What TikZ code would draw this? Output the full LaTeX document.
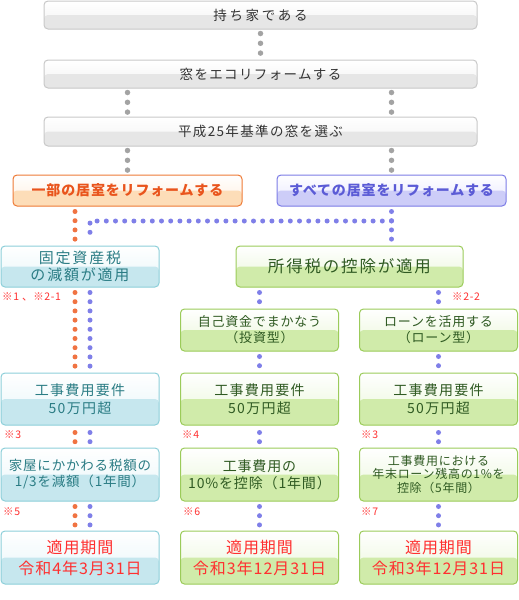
\documentclass[tikz,border=0pt]{standalone}
\usepackage{fontspec}
\setmainfont[LetterSpace=6]{Noto Sans CJK JP}

\definecolor{greyline}{HTML}{C8C8C8}
\definecolor{greyhi}{HTML}{F2F2F2}
\definecolor{greylo}{HTML}{E6E6E6}
\definecolor{greytext}{HTML}{333333}
\definecolor{orangeline}{HTML}{EE7A36}
\definecolor{orangehi}{HTML}{FFEEDD}
\definecolor{orangelo}{HTML}{FDDDB8}
\definecolor{orangetext}{HTML}{E9541C}
\definecolor{blueline}{HTML}{7C7CE6}
\definecolor{bluehi}{HTML}{E6E6FF}
\definecolor{bluelo}{HTML}{CDCDF8}
\definecolor{bluetext}{HTML}{5B5BD6}
\definecolor{cyanline}{HTML}{8DCFD9}
\definecolor{cyanhi}{HTML}{E6F5F8}
\definecolor{cyanlo}{HTML}{C6E7EE}
\definecolor{cyantext}{HTML}{2A7C84}
\definecolor{greenline}{HTML}{9BCB5A}
\definecolor{greenhi}{HTML}{E8F6D6}
\definecolor{greenlo}{HTML}{D0EBAA}
\definecolor{greentext}{HTML}{2F5A22}
\definecolor{notered}{HTML}{FF3030}
\definecolor{dotgrey}{HTML}{A3A3A3}
\definecolor{dotorange}{HTML}{F07342}
\definecolor{dotblue}{HTML}{7F7FE8}

\begin{document}
\begin{tikzpicture}[x=1pt,y=-1pt,
    box/.style={rounded corners=4pt, line width=1pt, align=center, inner sep=0pt, outer sep=0pt},
    gloss/.style 2 args={top color=white, bottom color=#1,
        path picture={\fill[#2] (path picture bounding box.west) rectangle (path picture bounding box.south east);}},
    greybox/.style={box, draw=greyline, gloss={greyhi}{greylo}, text=greytext,
        minimum width=433pt, minimum height=28pt, font=\fontsize{13.5}{16}\selectfont\addfontfeatures{LetterSpace=10}},
    choicebox/.style={box, gloss={#1hi}{#1lo}, draw=#1line, text=#1text,
        minimum width=229pt, minimum height=31pt, font=\fontsize{14}{16}\selectfont\bfseries},
    cyanbox/.style={box, draw=cyanline, gloss={cyanhi}{cyanlo}, text=cyantext, minimum width=158pt},
    greenbox/.style={box, draw=greenline, gloss={greenhi}{greenlo}, text=greentext, minimum width=158pt},
    reqtext/.style={minimum height=52pt, font=\fontsize{14}{18}\selectfont\addfontfeatures{LetterSpace=9}},
    termtext/.style={minimum height=53pt, text=notered, font=\fontsize{16}{21}\selectfont},
    note/.style={anchor=west, inner sep=0pt, text=notered, font=\fontsize{10.5}{12}\selectfont},
    greydots/.style={draw=dotgrey, line width=5.5pt, line cap=round, dash pattern=on 0pt off 9.8pt,
        shorten <=4.5pt, shorten >=4.5pt},
    orangedots/.style={draw=dotorange, line width=5pt, line cap=round, dash pattern=on 0pt off 9.2pt,
        shorten <=5.5pt, shorten >=5.5pt},
    bluedots/.style={draw=dotblue, line width=5pt, line cap=round, dash pattern=on 0pt off 9.2pt,
        shorten <=5.5pt, shorten >=5.5pt},
    nearpair/.style={shorten <=7.5pt, shorten >=6pt}
]
\useasboundingbox (0,0) rectangle (519,600);

% top steps
\node[greybox, font=\fontsize{13.5}{16}\selectfont\addfontfeatures{LetterSpace=20}] (own) at (260.5,15) {持ち家である};
\node[greybox] (eco) at (260.5,74) {窓をエコリフォームする};
\node[greybox, minimum height=29pt] (std) at (260.5,131.5) {平成25年基準の窓を選ぶ};

\node[choicebox=orange] (part) at (127.5,190.5) {一部の居室をリフォームする};
\node[choicebox=blue] (all) at (391.5,190.5) {すべての居室をリフォームする};

% tax types
\node[cyanbox, minimum height=41pt, font=\fontsize{15}{17}\selectfont\addfontfeatures{LetterSpace=12}] (fixed) at (80,266.5) {固定資産税\\の減額が適用};
\node[greenbox, minimum width=227pt, minimum height=41pt, font=\fontsize{16.5}{18}\selectfont\addfontfeatures{LetterSpace=11}] (income) at (349.5,266.5) {所得税の控除が適用};

\node[greenbox, minimum height=42pt, font=\fontsize{13}{16}\selectfont] (fund2) at (259.5,330) {自己資金でまかなう\\（投資型）};
\node[greenbox, minimum height=42pt, font=\fontsize{13}{16}\selectfont] (fund3) at (438.5,330) {ローンを活用する\\（ローン型）};

% requirements
\node[cyanbox, reqtext] (req1) at (80,399) {工事費用要件\\50万円超};
\node[greenbox, reqtext] (req2) at (259.5,399) {工事費用要件\\50万円超};
\node[greenbox, reqtext] (req3) at (438.5,399) {工事費用要件\\50万円超};

\node[cyanbox, minimum height=53pt, font=\fontsize{13.5}{16}\selectfont] (cut1) at (80,474.5) {家屋にかかわる税額の\\1/3を減額（1年間）};
\node[greenbox, minimum height=53pt, font=\fontsize{14}{17}\selectfont] (cut2) at (259.5,474.5) {工事費用の\\10\%を控除（1年間）};
\node[greenbox, minimum height=53pt, font=\fontsize{12}{13.5}\selectfont] (cut3) at (438.5,474.5) {工事費用における\\年末ローン残高の1\%を\\控除（5年間）};

\node[cyanbox, termtext] (term1) at (80,557.5) {適用期間\\令和4年3月31日};
\node[greenbox, termtext] (term2) at (259.5,557.5) {適用期間\\令和3年12月31日};
\node[greenbox, termtext] (term3) at (438.5,557.5) {適用期間\\令和3年12月31日};

% notes
\node[note] (n1) at (2,297) {※1 、※2-1};
\node[note] (n22) at (452,297) {※2-2};
\node[note] (n3) at (4,434.5) {※3};
\node[note] (n4) at (182,434.5) {※4};
\node[note] (n3b) at (361,434.5) {※3};
\node[note] (n5) at (3,511.5) {※5};
\node[note] (n6) at (183,511.5) {※6};
\node[note] (n7) at (361,511.5) {※7};

% connectors
\coordinate (oc) at (75,0);
\coordinate (bc) at (90,0);
\coordinate (bj) at (391.5,221);

\draw[greydots] (own) -- (eco);
\draw[greydots] (eco.south -| part) -- (std.north -| part);
\draw[greydots] (eco.south -| all) -- (std.north -| all);
\draw[greydots] (std.south -| part) -- (part.north);
\draw[greydots] (std.south -| all) -- (all.north);

\draw[orangedots] (part.south -| oc) -- (fixed.north -| oc);
\draw[bluedots] (all.south) -- (income.north -| all);
\draw[bluedots, shorten <=0pt] (bj) -- (bj -| bc) -- (fixed.north -| bc);

\foreach \a/\b/\s in {fixed/req1/, req1/cut1/nearpair, cut1/term1/}
{
    \draw[orangedots, \s] (\a.south -| oc) -- (\b.north -| oc);
    \draw[bluedots, \s] (\a.south -| bc) -- (\b.north -| bc);
}
\draw[bluedots] (income.south -| fund2) -- (fund2);
\draw[bluedots] (income.south -| fund3) -- (fund3);
\foreach \c in {2,3}
{
    \draw[bluedots] (fund\c) -- (req\c);
    \draw[bluedots, nearpair] (req\c) -- (cut\c);
    \draw[bluedots] (cut\c) -- (term\c);
}

\end{tikzpicture}
\end{document}
